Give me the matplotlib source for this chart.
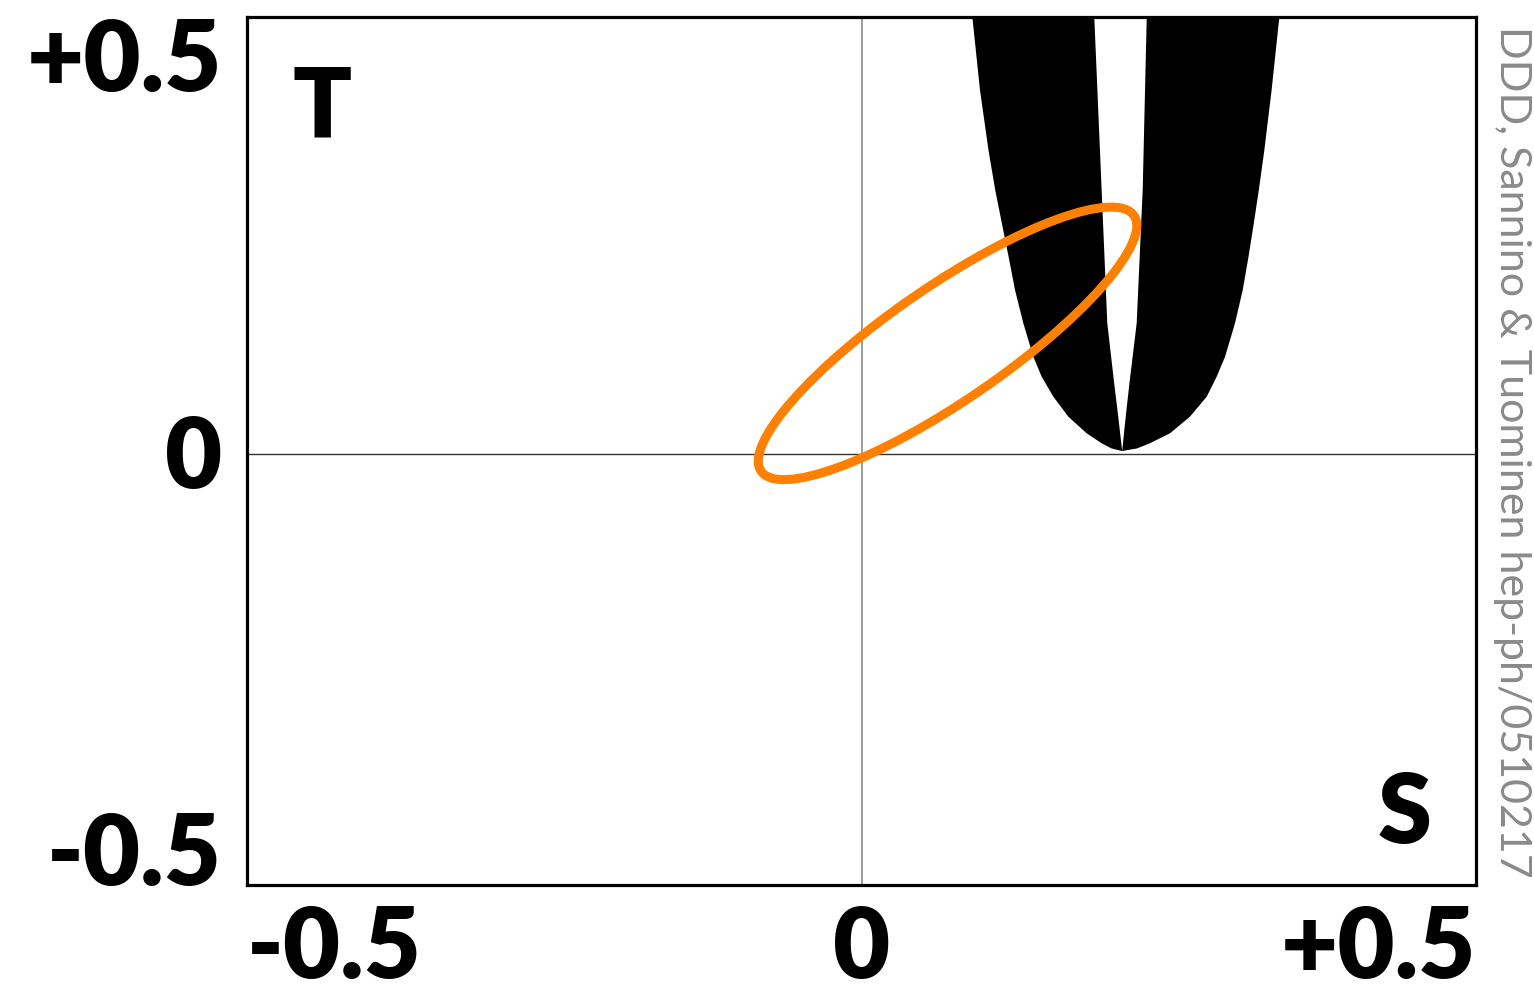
import numpy as np
import matplotlib
matplotlib.use("Agg")
import matplotlib.pyplot as plt
from matplotlib.patches import Ellipse

# allowed band of the model in the (S, T) plane: outer boundary
T_outer = [0.50, 0.4159, 0.3468, 0.3007, 0.2623, 0.2238, 0.1855, 0.1471,
           0.1086, 0.0856, 0.0626, 0.0395, 0.0204, 0.0089, 0.0029, 0.0]
S_outer_left = [0.0902, 0.0964, 0.1033, 0.1088, 0.1142, 0.1197, 0.1249,
                0.1317, 0.1398, 0.1466, 0.1561, 0.1683, 0.1832, 0.1954,
                0.2035, 0.2120]
S_outer_right = [0.3400, 0.3337, 0.3278, 0.3233, 0.3192, 0.3149, 0.3102,
                 0.3039, 0.2958, 0.2890, 0.2809, 0.2672, 0.2510, 0.2347,
                 0.2240, 0.2120]

# excluded slit inside the band
T_inner = [0.50, 0.3007, 0.1471, 0.0780, 0.0395, 0.0]
S_inner_left = [0.1894, 0.1954, 0.2000, 0.2056, 0.2089, 0.2121]
S_inner_right = [0.2321, 0.2288, 0.2239, 0.2180, 0.2150, 0.2121]

# experimental S, T contour
S_fit, T_fit = 0.070, 0.124
sig_S, sig_T, rho = 0.154, 0.157, 0.864

ticks = [-0.5, 0, 0.5]
tick_labels = ["-0.5", "0", "+0.5"]
credit = "DDD, Sannino & Tuominen hep-ph/0510217"

W, H = 1534, 984
fig = plt.figure(figsize=(W / 100, H / 100), dpi=100)
ax = fig.add_axes([247 / W, 99 / H, 1229 / W, 868 / H])
ax.set_xlim(-0.5, 0.5)
ax.set_ylim(-0.5, 0.5)

ax.axvline(0, color="#8c8c8c", lw=1.2, zorder=1)
ax.axhline(-0.003, color="#333333", lw=1.0, zorder=1)

# band polygon: down the outer left edge, up the outer right edge,
# then down the slit's right side and back up its left side
xs = (S_outer_left + S_outer_right[::-1] + S_inner_right + S_inner_left[::-1])
ys = (T_outer + T_outer[::-1] + T_inner + T_inner[::-1])
ax.fill(xs, ys, color="black", lw=0, zorder=2)

cov = np.array([[sig_S ** 2, rho * sig_S * sig_T],
                [rho * sig_S * sig_T, sig_T ** 2]])
vals, vecs = np.linalg.eigh(cov)
angle = np.degrees(np.arctan2(vecs[1, 1], vecs[0, 1]))
ell = Ellipse((S_fit, T_fit), 2 * np.sqrt(vals[1]), 2 * np.sqrt(vals[0]),
              angle=angle, fill=False, edgecolor="#ff8000", lw=6.5, zorder=3)
ax.add_patch(ell)

font = dict(family="Lato", weight="heavy", size=71)
ax.set_xticks(ticks, tick_labels, **font)
ax.set_yticks(ticks, tick_labels, **font)
ax.tick_params(length=0)
ax.tick_params(axis="x", pad=14)
ax.tick_params(axis="y", pad=18)
xl = ax.get_xticklabels()
xl[0].set_horizontalalignment("left")
xl[-1].set_horizontalalignment("right")
yl = ax.get_yticklabels()
yl[0].set_verticalalignment("baseline")
yl[-1].set_verticalalignment("top")

for side in ax.spines.values():
    side.set_linewidth(2.3)

ax.text(0.0374, 0.8606, "T", transform=ax.transAxes, ha="left",
        va="baseline", family="Lato", weight="heavy", size=70)
ax.text(0.9642, 0.0484, "S", transform=ax.transAxes, ha="right",
        va="baseline", family="Lato", weight="heavy", size=70)

fig.text(1512 / W, 1 - 452 / H, credit, rotation=270, ha="center",
         va="center", color="#8a8a8a", family="Lato", weight="normal", size=31)

fig.savefig("out.png", dpi=100)
